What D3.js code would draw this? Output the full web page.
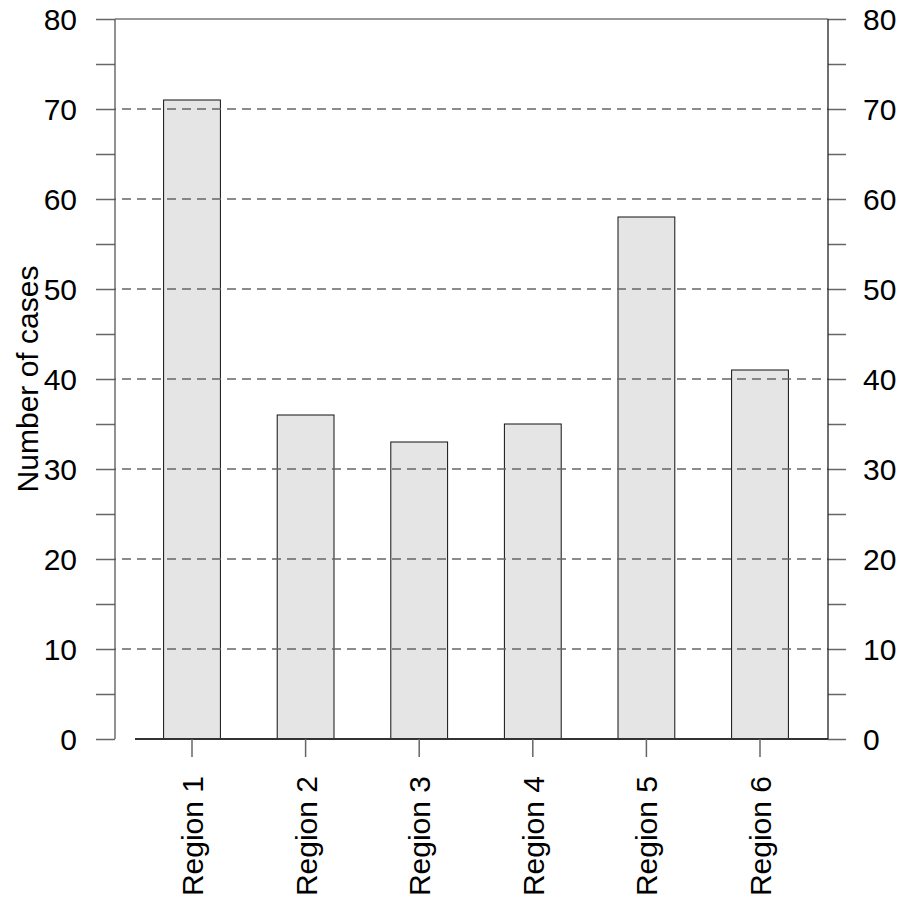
<!DOCTYPE html>
<html>
<head>
<meta charset="utf-8">
<script src="https://cdn.jsdelivr.net/npm/d3@7"></script>
<style>
html,body{margin:0;padding:0;background:#fff;}
text{font-family:"Liberation Sans",Arial,sans-serif;}
</style>
</head>
<body>
<svg id="chart" width="904" height="899"></svg>
<script>
const categories = ["Region 1","Region 2","Region 3","Region 4","Region 5","Region 6"];
const cases = [71, 36, 33, 35, 58, 41];
const majorTicks = [0,10,20,30,40,50,60,70,80];
const minorTicks = [5,15,25,35,45,55,65,75];
const gridValues = [10,20,30,40,50,60,70];
const yTitle = "Number of cases";

const svg = d3.select("#chart");
const pLeft = 115, pRight = 828, pTop = 19, pBottom = 739;

const y = d3.scaleLinear().domain([0,80]).range([pBottom, pTop]);
const x = d3.scaleBand().domain(categories).range([135.2, 816.8]).paddingInner(0.5).paddingOuter(0.25);

const tickCol = "#666";
const fs = 30;

// bars
svg.append("g").selectAll("rect").data(categories).join("rect")
  .attr("x", d => x(d))
  .attr("y", (d,i) => y(cases[i]))
  .attr("width", x.bandwidth())
  .attr("height", (d,i) => y(0) - y(cases[i]))
  .attr("fill", "#e5e5e5")
  .attr("stroke", "#111")
  .attr("stroke-width", 1);

// dashed grid over bars
svg.append("g").selectAll("line").data(gridValues).join("line")
  .attr("x1", pLeft).attr("x2", pRight)
  .attr("y1", d => y(d)).attr("y2", d => y(d))
  .attr("stroke", "#666").attr("stroke-width", 1.3)
  .attr("stroke-dasharray", "9,6")
  .attr("stroke-dashoffset", -7);

// top border
svg.append("line").attr("x1", pLeft).attr("x2", pRight).attr("y1", y(80)).attr("y2", y(80))
  .attr("stroke", "#777").attr("stroke-width", 1.5);
// baseline
svg.append("line").attr("x1", 135).attr("x2", pRight).attr("y1", y(0)).attr("y2", y(0))
  .attr("stroke", "#333").attr("stroke-width", 1.8);

// left axis
const yAxisL = d3.axisLeft(y).tickValues(majorTicks.concat(minorTicks)).tickSize(19).tickPadding(19)
  .tickFormat(d => majorTicks.includes(d) ? d3.format("d")(d) : "");
const gL = svg.append("g").attr("transform", `translate(${pLeft},0)`).call(yAxisL);
gL.select(".domain").remove();
gL.selectAll(".tick line").attr("stroke", tickCol).attr("stroke-width", 1.5);
gL.selectAll(".tick text").attr("font-size", fs).attr("fill", "#000").attr("dy", "0.36em");
svg.append("line").attr("x1", pLeft).attr("x2", pLeft).attr("y1", pTop).attr("y2", pBottom)
  .attr("stroke", "#555").attr("stroke-width", 1.3);

// right axis
const yAxisR = d3.axisRight(y).tickValues(majorTicks.concat(minorTicks)).tickSize(18).tickPadding(17)
  .tickFormat(d => majorTicks.includes(d) ? d3.format("d")(d) : "");
const gR = svg.append("g").attr("transform", `translate(${pRight},0)`).call(yAxisR);
gR.select(".domain").remove();
gR.selectAll(".tick line").attr("stroke", tickCol).attr("stroke-width", 1.5);
gR.selectAll(".tick text").attr("font-size", fs).attr("fill", "#000").attr("dy", "0.36em");
svg.append("line").attr("x1", pRight).attr("x2", pRight).attr("y1", pTop).attr("y2", pBottom)
  .attr("stroke", "#222").attr("stroke-width", 1.3);

// x axis
const xAxis = d3.axisBottom(x).tickSize(18).tickPadding(0);
const gX = svg.append("g").attr("transform", `translate(0,${pBottom})`).call(xAxis);
gX.select(".domain").remove();
gX.selectAll(".tick line").attr("stroke", tickCol).attr("stroke-width", 1.5);
gX.selectAll(".tick text")
  .attr("font-size", fs).attr("fill", "#000")
  .attr("text-anchor", "end")
  .attr("transform", "translate(11,37) rotate(-90)")
  .attr("x", 0).attr("y", 0).attr("dy", 0);

// y title
svg.append("text")
  .attr("transform", `translate(${38},${(pTop+pBottom)/2}) rotate(-90)`)
  .attr("text-anchor", "middle")
  .attr("font-size", 30)
  .attr("fill", "#000")
  .text(yTitle);
</script>
</body>
</html>
